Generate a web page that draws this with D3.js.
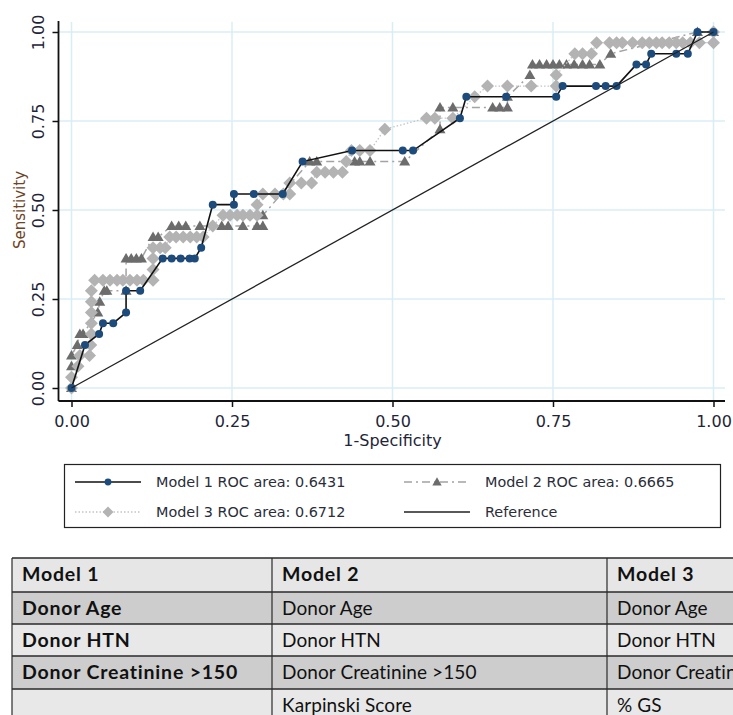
<!DOCTYPE html>
<html>
<head>
<meta charset="utf-8">
<script src="https://cdn.jsdelivr.net/npm/d3@7"></script>
<style>
  body { margin: 0; background: #fff; }
  svg { display: block; }
</style>
</head>
<body>
<div class="board"></div>
<script>
(function() {

  // axis ticks
  var tickValues = [0, 0.25, 0.5, 0.75, 1];
  var tickLabels = ['0.00', '0.25', '0.50', '0.75', '1.00'];

  // ROC points [1-specificity, sensitivity]
  var model1Points = [
    [0, 0], [0.021, 0.121], [0.043, 0.152], [0.049, 0.182], [0.065, 0.182],
    [0.085, 0.212], [0.085, 0.273], [0.107, 0.273], [0.142, 0.364], [0.156, 0.364],
    [0.170, 0.364], [0.184, 0.364], [0.192, 0.364], [0.202, 0.394], [0.220, 0.515],
    [0.253, 0.515], [0.253, 0.545], [0.284, 0.545], [0.329, 0.545], [0.360, 0.636],
    [0.437, 0.667], [0.516, 0.667], [0.532, 0.667], [0.605, 0.758], [0.615, 0.818],
    [0.677, 0.818], [0.755, 0.818], [0.765, 0.848], [0.817, 0.848], [0.832, 0.848],
    [0.849, 0.848], [0.880, 0.909], [0.895, 0.909], [0.903, 0.939], [0.942, 0.939],
    [0.960, 0.939], [0.975, 1.0], [1.0, 1.0]
  ];

  var model2Points = [
    [0, 0], [0, 0.061], [0, 0.091], [0.009, 0.121], [0.013, 0.152],
    [0.018, 0.152], [0.041, 0.212], [0.044, 0.242], [0.051, 0.273], [0.055, 0.273],
    [0.085, 0.273], [0.085, 0.364], [0.093, 0.364], [0.101, 0.364], [0.109, 0.364],
    [0.127, 0.424], [0.135, 0.424], [0.156, 0.455], [0.167, 0.455], [0.178, 0.455],
    [0.200, 0.455], [0.234, 0.455], [0.244, 0.455], [0.267, 0.455], [0.289, 0.455],
    [0.298, 0.455], [0.298, 0.485], [0.371, 0.636], [0.382, 0.636], [0.441, 0.636],
    [0.449, 0.636], [0.465, 0.636], [0.519, 0.636], [0.574, 0.727], [0.574, 0.788],
    [0.594, 0.788], [0.656, 0.788], [0.667, 0.788], [0.679, 0.788], [0.679, 0.818],
    [0.714, 0.879], [0.718, 0.909], [0.729, 0.909], [0.740, 0.909], [0.750, 0.909],
    [0.760, 0.909], [0.771, 0.909], [0.783, 0.909], [0.796, 0.909], [0.807, 0.909],
    [0.823, 0.909], [0.840, 0.939], [0.975, 1.0], [1.0, 1.0]
  ];

  var model3Points = [
    [0, 0], [0, 0.030], [0.010, 0.061], [0.013, 0.091], [0.028, 0.091],
    [0.030, 0.121], [0.031, 0.152], [0.031, 0.182], [0.031, 0.212], [0.031, 0.242],
    [0.031, 0.273], [0.036, 0.303], [0.049, 0.303], [0.060, 0.303], [0.071, 0.303],
    [0.080, 0.303], [0.091, 0.303], [0.102, 0.303], [0.112, 0.303], [0.127, 0.303],
    [0.127, 0.333], [0.127, 0.364], [0.127, 0.394], [0.138, 0.394], [0.146, 0.394],
    [0.153, 0.424], [0.163, 0.424], [0.174, 0.424], [0.185, 0.424], [0.195, 0.424],
    [0.205, 0.424], [0.220, 0.455], [0.236, 0.485], [0.247, 0.485], [0.258, 0.485],
    [0.267, 0.485], [0.278, 0.485], [0.289, 0.485], [0.289, 0.515], [0.298, 0.545],
    [0.317, 0.545], [0.330, 0.545], [0.340, 0.545], [0.340, 0.576], [0.358, 0.576],
    [0.374, 0.576], [0.382, 0.606], [0.395, 0.606], [0.408, 0.606], [0.422, 0.606],
    [0.428, 0.636], [0.436, 0.667], [0.449, 0.667], [0.465, 0.667], [0.488, 0.727],
    [0.553, 0.758], [0.566, 0.758], [0.594, 0.758], [0.628, 0.818], [0.648, 0.848],
    [0.679, 0.848], [0.716, 0.848], [0.755, 0.848], [0.755, 0.879], [0.784, 0.939],
    [0.796, 0.939], [0.810, 0.939], [0.818, 0.970], [0.838, 0.970], [0.849, 0.970],
    [0.858, 0.970], [0.874, 0.970], [0.889, 0.970], [0.900, 0.970], [0.911, 0.970],
    [0.920, 0.970], [0.931, 0.970], [0.942, 0.970], [0.952, 0.970], [0.964, 0.970],
    [0.978, 0.970], [1.0, 0.970], [1.0, 1.0]
  ];

  var referencePoints = [[0, 0], [1, 1]];

  var legendLabels = [
    'Model 1 ROC area: 0.6431',
    'Model 2 ROC area: 0.6665',
    'Model 3 ROC area: 0.6712',
    'Reference'
  ];

  // table below the chart
  var tableHeader = ['Model 1', 'Model 2', 'Model 3'];
  var tableRows = [
    ['Donor Age', 'Donor Age', 'Donor Age'],
    ['Donor HTN', 'Donor HTN', 'Donor HTN'],
    ['Donor Creatinine >150', 'Donor Creatinine >150', 'Donor Creatinine >150'],
    ['', 'Karpinski Score', '% GS']
  ];

  var width = 733, height = 715;
  var axisFont = '"DejaVu Sans", Verdana, sans-serif';

  var board = d3.select('.board')
    .append('svg')
    .attr('width', width)
    .attr('height', height);

  var x = d3.scaleLinear().domain([0, 1]).range([71.5, 713.5]);
  var y = d3.scaleLinear().domain([0, 1]).range([388, 32]);

  var axisX0 = 58.5, axisY0 = 401;

  // grid
  board.append('g').selectAll('line')
    .data(tickValues)
    .enter().append('line')
    .attr('x1', function(d) { return x(d); })
    .attr('x2', function(d) { return x(d); })
    .attr('y1', 22)
    .attr('y2', axisY0)
    .style('stroke', '#d8eef3')
    .style('stroke-width', 1.5);

  board.append('g').selectAll('line')
    .data(tickValues)
    .enter().append('line')
    .attr('x1', axisX0)
    .attr('x2', 725)
    .attr('y1', function(d) { return y(d); })
    .attr('y2', function(d) { return y(d); })
    .style('stroke', '#d8eef3')
    .style('stroke-width', 1.5);

  // axes
  var xAxis = d3.axisBottom(x)
    .tickValues(tickValues)
    .tickFormat(function(d, i) { return tickLabels[i]; })
    .tickSize(6)
    .tickPadding(9)
    .tickSizeOuter(0);

  var gx = board.append('g')
    .attr('transform', 'translate(0,' + axisY0 + ')')
    .call(xAxis);
  gx.select('.domain').remove();
  gx.selectAll('line').style('stroke', '#111').style('stroke-width', 1.5);
  gx.selectAll('text')
    .style('font-family', axisFont)
    .style('font-size', '16px')
    .style('fill', '#1e2538');

  var yAxis = d3.axisLeft(y)
    .tickValues(tickValues)
    .tickFormat(function(d, i) { return tickLabels[i]; })
    .tickSize(6)
    .tickSizeOuter(0);

  var gy = board.append('g')
    .attr('transform', 'translate(' + axisX0 + ',0)')
    .call(yAxis);
  gy.select('.domain').remove();
  gy.selectAll('line').style('stroke', '#111').style('stroke-width', 1.5);
  gy.selectAll('text')
    .attr('transform', 'rotate(-90)')
    .attr('x', 0)
    .attr('y', -15)
    .attr('dy', 0)
    .style('text-anchor', 'middle')
    .style('font-family', axisFont)
    .style('font-size', '16px')
    .style('fill', '#1e2538');

  board.append('line')
    .attr('x1', axisX0).attr('x2', 725)
    .attr('y1', axisY0).attr('y2', axisY0)
    .style('stroke', '#111').style('stroke-width', 1.8);
  board.append('line')
    .attr('x1', axisX0).attr('x2', axisX0)
    .attr('y1', 21).attr('y2', axisY0)
    .style('stroke', '#111').style('stroke-width', 1.8);

  board.append('text')
    .attr('x', x(0.5))
    .attr('y', 446)
    .text('1-Specificity')
    .style('font-family', axisFont)
    .style('font-size', '16px')
    .style('fill', '#1e2538')
    .style('text-anchor', 'middle');

  board.append('text')
    .attr('transform', 'translate(25,' + y(0.5) + ') rotate(-90)')
    .text('Sensitivity')
    .style('font-family', axisFont)
    .style('font-size', '15px')
    .style('fill', '#6e4326')
    .style('text-anchor', 'middle');

  // marker shapes
  var circlePath = 'M0,-4A4,4 0 1,1 0,4A4,4 0 1,1 0,-4Z';
  var trianglePath = 'M0,-5.5L5.5,4L-5.5,4Z';
  var diamondPath = 'M0,-6.5L6.5,0L0,6.5L-6.5,0Z';

  var line = d3.line()
    .x(function(d) { return x(d[0]); })
    .y(function(d) { return y(d[1]); });

  function drawSeries(points, lineColor, lineWidth, dash, shape, markerColor) {
    var g = board.append('g');
    g.append('path')
      .datum(points)
      .attr('d', line)
      .style('fill', 'none')
      .style('stroke', lineColor)
      .style('stroke-width', lineWidth)
      .style('stroke-dasharray', dash);
    g.selectAll('path.mark')
      .data(points)
      .enter().append('path')
      .attr('class', 'mark')
      .attr('d', shape)
      .attr('transform', function(d) { return 'translate(' + x(d[0]) + ',' + y(d[1]) + ')'; })
      .style('fill', markerColor);
  }

  drawSeries(model2Points, '#a3a3a3', 1.5, '8,4,2,4', trianglePath, '#6c6c6c');
  drawSeries(model3Points, '#c4c4c4', 1.3, '1.5,2', diamondPath, '#b3b3b3');
  drawSeries(model1Points, '#111', 1.6, null, circlePath, '#1c4b7c');

  board.append('path')
    .datum(referencePoints)
    .attr('d', line)
    .style('fill', 'none')
    .style('stroke', '#222')
    .style('stroke-width', 1.3);

  // legend
  var legend = board.append('g');
  legend.append('rect')
    .attr('x', 64.5).attr('y', 464.5)
    .attr('width', 656).attr('height', 63)
    .style('fill', '#fff')
    .style('stroke', '#222')
    .style('stroke-width', 1.2);

  var legendItems = [
    { col: 0, row: 0, stroke: '#111', width: 1.6, dash: null, shape: circlePath, color: '#1c4b7c' },
    { col: 1, row: 0, stroke: '#a3a3a3', width: 1.5, dash: '8,4,2,4', shape: trianglePath, color: '#6c6c6c' },
    { col: 0, row: 1, stroke: '#c4c4c4', width: 1.3, dash: '1.5,2', shape: diamondPath, color: '#b3b3b3' },
    { col: 1, row: 1, stroke: '#222', width: 1.3, dash: null, shape: null, color: null }
  ];
  var legendColX = [75, 404];
  var legendRowY = [482, 512];

  legendItems.forEach(function(item, i) {
    var lx = legendColX[item.col], ly = legendRowY[item.row];
    legend.append('line')
      .attr('x1', lx).attr('x2', lx + 66)
      .attr('y1', ly).attr('y2', ly)
      .style('stroke', item.stroke)
      .style('stroke-width', item.width)
      .style('stroke-dasharray', item.dash);
    if (item.shape) {
      legend.append('path')
        .attr('d', item.shape)
        .attr('transform', 'translate(' + (lx + 33) + ',' + ly + ') scale(0.85)')
        .style('fill', item.color);
    }
    legend.append('text')
      .attr('x', lx + 81)
      .attr('y', ly + 5)
      .text(legendLabels[i])
      .style('font-family', axisFont)
      .style('font-size', '14.4px')
      .style('fill', '#2a2d3a');
  });

  // table
  var colX = [12, 272, 607, 1000];
  var rowY = [558, 592, 624, 656, 689, 722];
  var rowFill = ['#e6e6e6', '#cdcdcd', '#e8e8e8', '#cdcdcd', '#e8e8e8'];
  var tableFont = 'Lato, "Open Sans", sans-serif';
  var allRows = [tableHeader].concat(tableRows);
  var table = board.append('g');

  table.selectAll('rect')
    .data(allRows)
    .enter().append('rect')
    .attr('x', colX[0])
    .attr('y', function(d, i) { return rowY[i]; })
    .attr('width', colX[3] - colX[0])
    .attr('height', function(d, i) { return rowY[i + 1] - rowY[i]; })
    .style('fill', function(d, i) { return rowFill[i]; });

  allRows.forEach(function(row, r) {
    row.forEach(function(cell, c) {
      var bold = (r === 0 || c === 0);
      table.append('text')
        .attr('x', colX[c] + 10)
        .attr('y', rowY[r] + 23)
        .text(cell)
        .style('font-family', tableFont)
        .style('font-size', bold ? '19.5px' : '19px')
        .style('letter-spacing', bold ? '0.8px' : '0.1px')
        .style('font-weight', bold ? 'bold' : 'normal')
        .style('fill', '#111');
    });
  });

  table.selectAll('line.h')
    .data(rowY.slice(0, 5))
    .enter().append('line')
    .attr('class', 'h')
    .attr('x1', colX[0]).attr('x2', width)
    .attr('y1', function(d) { return d; })
    .attr('y2', function(d) { return d; })
    .style('stroke', '#2a2a2a')
    .style('stroke-width', 1.6);

  table.selectAll('line.v')
    .data(colX.slice(0, 3))
    .enter().append('line')
    .attr('class', 'v')
    .attr('x1', function(d) { return d; })
    .attr('x2', function(d) { return d; })
    .attr('y1', rowY[0]).attr('y2', height)
    .style('stroke', '#2a2a2a')
    .style('stroke-width', 1.2);

})();
</script>
</body>
</html>
